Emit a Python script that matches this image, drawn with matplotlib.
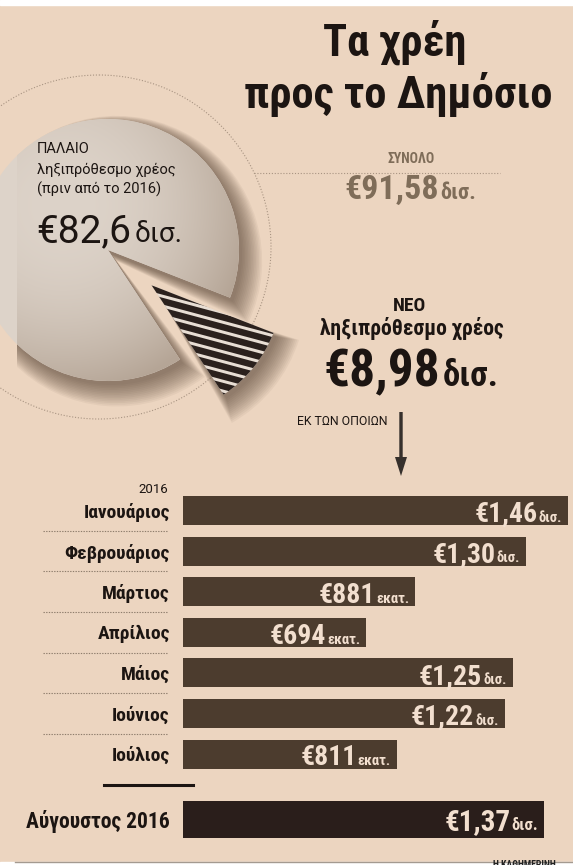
import matplotlib
matplotlib.use("Agg")
import matplotlib.pyplot as plt
from matplotlib import font_manager
from matplotlib.patches import Circle, Rectangle, Wedge, FancyArrow
from matplotlib.transforms import Bbox, TransformedBbox, blended_transform_factory
from matplotlib.colors import to_rgb
import numpy as np

W, H = 573, 865

# --- data -------------------------------------------------------------
old_debt = 82.6      # δισ. ευρώ, πριν από το 2016
new_debt = 8.98      # δισ. ευρώ, νέο ληξιπρόθεσμο
total_debt = 91.58

months = ["Ιανουάριος", "Φεβρουάριος", "Μάρτιος", "Απρίλιος",
          "Μάιος", "Ιούνιος", "Ιούλιος", "Αύγουστος 2016"]
amounts = [1460, 1300, 881, 694, 1250, 1220, 811, 1370]   # εκατ. ευρώ
amount_labels = ["€1,46", "€1,30", "€881", "€694", "€1,25", "€1,22", "€811", "€1,37"]
amount_units = ["δισ.", "δισ.", "εκατ.", "εκατ.", "δισ.", "δισ.", "εκατ.", "δισ."]

# --- colours ----------------------------------------------------------
BG = "#ecd5c0"
PIE_LIGHT = "#ddd3c9"
PIE_DARK = "#b5a596"
STRIPE = "#2b211d"
STRIPE_BG = "#e8ded4"
BAR = "#4c3c2e"
BAR_LAST = "#2a1e1b"
GREY_TXT = "#7f6d59"
INK = "#1c1512"
VAL = "#f2dfcf"


def condensed_font():
    fl = font_manager.fontManager.ttflist
    names = {f.name for f in fl}
    for c in ["Roboto Condensed", "Open Sans Condensed", "Liberation Sans Narrow",
              "Noto Sans Condensed", "DejaVu Sans Condensed"]:
        if c in names:
            return dict(family=c)
    for base in ["Roboto", "Open Sans", "Noto Sans", "DejaVu Sans"]:
        if any(f.name == base and str(f.stretch) in ("condensed", "semi-condensed") for f in fl):
            return dict(family=base, fontstretch="condensed")
    return dict(family="Roboto")


FC = condensed_font()
FN = dict(family="Roboto")

fig = plt.figure(figsize=(W / 100, H / 100), dpi=100)
fig.patch.set_facecolor(BG)
renderer = fig.canvas.get_renderer()

# main axes in pixel coordinates, y pointing down
ax = fig.add_axes([0, 0, 1, 1])
ax.set_facecolor(BG)


def reset_main():
    ax.set_autoscale_on(False)
    ax.set_xlim(0, W)
    ax.set_ylim(H, 0)
    ax.set_aspect("auto")
    ax.axis("off")


reset_main()

# white strips at the edges of the scanned page
ax.add_patch(Rectangle((0, 0), W, 5, color="white", zorder=1))
ax.add_patch(Rectangle((0, 862), W, 5, color="white", zorder=1))
ax.plot([15, W], [861.5, 861.5], color="#a49a90", lw=1, zorder=2)
ax.text(493, 860, "Η ΚΑΘΗΜΕΡΙΝΗ", fontsize=7, weight="bold", color="#222222",
        va="top", ha="left", zorder=3, **FC)

# --- pie --------------------------------------------------------------
cx, cy, r = 108, 250, 131
new_deg = 360 * new_debt / (old_debt + new_debt)
start = 39 + new_deg / 2          # y axis points down -> data angles are mirrored

ax.add_patch(Circle((99, 247), 172, fill=False, ls=(0, (1, 1.6)), lw=0.8,
                    color="#a89482", zorder=1))
ax.plot([254, 500], [172.5, 172.5], ls=(0, (1, 1.6)), lw=0.8, color="#a89482", zorder=1)

wedges, _ = ax.pie([old_debt, new_debt], explode=[0, 56], startangle=start,
                   radius=r, center=(cx, cy), colors=[PIE_LIGHT, STRIPE_BG],
                   frame=True, wedgeprops=dict(linewidth=0, zorder=4))
reset_main()

clip = TransformedBbox(Bbox([[17, 0], [W, H]]), ax.transData)

# soft shadow under both pieces
for w in wedges:
    for k in range(14):
        s = Wedge((w.center[0] + 3 + k * 0.45, w.center[1] + 4 + k * 0.55), w.r + k * 1.1,
                  w.theta1 - k * 0.3, w.theta2 + k * 0.3, color="#4e3b2c",
                  alpha=0.055, lw=0, zorder=3)
        ax.add_patch(s)
        s.set_clip_box(clip)

for w in wedges:
    w.set_clip_box(clip)

# shading on the big piece
gx = np.linspace(cx - r, cx + r, 220)
gy = np.linspace(cy - r, cy + r, 220)
GX, GY = np.meshgrid(gx, gy)
t = np.clip(np.hypot(GX - (cx - 45), GY - (cy - 45)) / (r * 1.45), 0, 1) ** 2.2
img = np.array(to_rgb(PIE_LIGHT)) + (np.array(to_rgb(PIE_DARK)) - np.array(to_rgb(PIE_LIGHT))) * t[..., None]
im = ax.imshow(img, extent=(cx - r, cx + r, cy + r, cy - r), aspect="auto",
               interpolation="bilinear", zorder=4.5)
im.set_clip_path(wedges[0])
im.set_clip_box(clip)
reset_main()

# stripes on the exploded piece
wn = wedges[1]
a = np.deg2rad(15)
dvec = np.array([np.cos(a), np.sin(a)])
nvec = np.array([-np.sin(a), np.cos(a)])
for k in range(-25, 25):
    p = np.array(wn.center) + nvec * (k * 9.5 + 3)
    ln, = ax.plot([p[0] - 250 * dvec[0], p[0] + 250 * dvec[0]],
                  [p[1] - 250 * dvec[1], p[1] + 250 * dvec[1]],
                  color=STRIPE, lw=6.5 * 0.72, solid_capstyle="butt", zorder=5)
    ln.set_clip_path(wn)


def money(axis, x, y, num, unit, num_kw, unit_kw, ha="left", gap=3, dx=0):
    t1 = axis.text(x, y, num, va="baseline", ha="left", **num_kw)
    t2 = axis.text(x, y, unit, va="baseline", ha="left", **unit_kw)
    w1 = t1.get_window_extent(renderer).width
    w2 = t2.get_window_extent(renderer).width
    total = w1 + gap + w2
    px, py = axis.transData.transform((x, y))
    px += dx
    if ha == "right":
        s = px - total
    elif ha == "center":
        s = px - total / 2
    else:
        s = px
    inv = axis.transData.inverted()
    t1.set_position(inv.transform((s, py)))
    t2.set_position(inv.transform((s + w1 + gap, py)))
    return t1, t2


def gr(v, nd):
    return ("€{:." + str(nd) + "f}").format(v).replace(".", ",")


# --- texts on the pie side ---------------------------------------------
ax.text(395, 56, "Τα χρέη", fontsize=32, weight="bold", color=INK, ha="center", va="baseline", zorder=6, **FC)
ax.text(398, 108, "προς το Δημόσιο", fontsize=32, weight="bold", color=INK, ha="center", va="baseline", zorder=6, **FC)

for txt, yy in [("ΠΑΛΑΙΟ", 153), ("ληξιπρόθεσμο χρέος", 174), ("(πριν από το 2016)", 194)]:
    ax.text(37, yy, txt, fontsize=10.5, color=INK, ha="left", va="baseline", zorder=6, **FN)
money(ax, 36, 242, gr(old_debt, 1), "δισ.",
      dict(fontsize=28, weight="normal", color=INK, zorder=6, **FN),
      dict(fontsize=20, weight="normal", color=INK, zorder=6, **FN), ha="left", gap=4)

ax.text(411, 163, "ΣΥΝΟΛΟ", fontsize=10, weight="bold", color=GREY_TXT, ha="center", va="baseline", zorder=6, **FC)
money(ax, 410, 199, gr(total_debt, 2), "δισ.",
      dict(fontsize=24.5, weight="bold", color=GREY_TXT, zorder=6, **FC),
      dict(fontsize=16, weight="bold", color=GREY_TXT, zorder=6, **FC), ha="center", gap=2)

ax.text(410, 311, "ΝΕΟ", fontsize=14, weight="bold", color=INK, ha="center", va="baseline", zorder=6, **FC)
ax.text(412, 335, "ληξιπρόθεσμο χρέος", fontsize=15.5, weight="bold", color=INK, ha="center", va="baseline", zorder=6, **FC)
money(ax, 411, 386, gr(new_debt, 2), "δισ.",
      dict(fontsize=37, weight="bold", color=INK, zorder=6, **FC),
      dict(fontsize=25, weight="bold", color=INK, zorder=6, **FC), ha="center", gap=3)

ax.text(297, 425, "ΕΚ ΤΩΝ ΟΠΟΙΩΝ", fontsize=8.8, color=INK, ha="left", va="baseline", zorder=6, **FN)
ax.add_patch(FancyArrow(401, 412, 0, 64, width=3.4, head_width=12, head_length=19,
                        length_includes_head=True, color="#36302c", lw=0, zorder=6))

# --- monthly bars ------------------------------------------------------
x0_px = 183
px_per_unit = 0.2637
row_px = 40.6
first_px = 510.5
top_px, bot_px = 490, 846

bx = fig.add_axes([x0_px / W, (H - bot_px) / H, (W - x0_px) / W, (bot_px - top_px) / H])
bx.patch.set_alpha(0)
bx.set_xlim(0, (W - x0_px) / px_per_unit)
ypos = list(range(len(months) - 1)) + [len(months) - 1 + 0.6]
heights = [0.71] * (len(months) - 1) + [0.91]
colors = [BAR] * (len(months) - 1) + [BAR_LAST]
bx.barh(ypos, amounts, height=heights, color=colors, linewidth=0)
bx.set_ylim((bot_px - first_px) / row_px, (top_px - first_px) / row_px)
for s in bx.spines.values():
    s.set_visible(False)
bx.set_xticks([])
bx.set_yticks(ypos, months)
bx.tick_params(axis="y", length=0, pad=9.5)
for i, lab in enumerate(bx.get_yticklabels()):
    lab.set_family(FC["family"])
    if "fontstretch" in FC:
        lab.set_stretch(FC["fontstretch"])
    lab.set_fontweight("bold")
    lab.set_color(INK)
    lab.set_fontsize(15.5 if i == len(months) - 1 else 14)

sep = blended_transform_factory(ax.transData, bx.transData)
bx.text(168, -0.42, "2016", transform=sep, fontsize=9.5, color=INK,
        ha="right", va="baseline", **FN)

for i in range(len(months) - 2):
    ym = (ypos[i] + ypos[i + 1]) / 2
    bx.plot([43, 168], [ym, ym], transform=sep, ls=(0, (1.2, 1.2)), lw=0.8, color="#8e7d6c", clip_on=False)
ax.plot([104, 193], [785, 785], color=INK, lw=2.2, zorder=6)

for i, (v, lab, unit) in enumerate(zip(amounts, amount_labels, amount_units)):
    big = i == len(months) - 1
    money(bx, v, ypos[i] + 0.28, lab, unit,
          dict(fontsize=21 if big else 20, weight="bold", color=VAL, **FC),
          dict(fontsize=12 if big else 10.5, weight="bold", color=VAL, **FC),
          ha="right", gap=1, dx=-6)

fig.savefig("out.png", dpi=100, facecolor=BG)
